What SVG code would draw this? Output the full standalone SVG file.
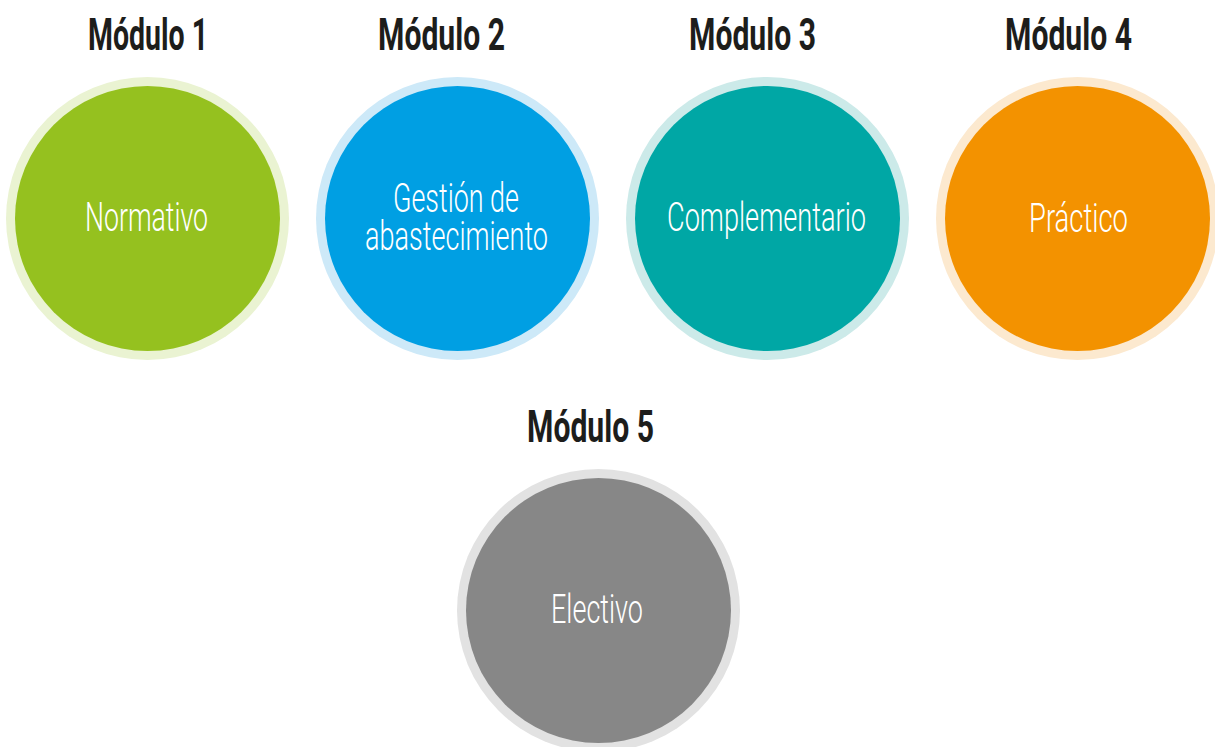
<svg xmlns="http://www.w3.org/2000/svg" width="1215" height="747" viewBox="0 0 1215 747">
<style>
.title{font-family:Roboto,"Liberation Sans",sans-serif;font-weight:700;font-size:44px;fill:#1d1d1b;}
.lbl{font-family:Roboto,"Liberation Sans",sans-serif;font-weight:300;font-size:40px;fill:#ffffff;}
</style>
<rect width="1215" height="747" fill="#ffffff"/>
<g id="modulo1">
<text class="title" x="88" y="49.5" textLength="120" lengthAdjust="spacingAndGlyphs">Módulo 1</text>
<circle cx="147.5" cy="218.5" r="141.5" fill="#eaf3d2"/>
<circle cx="147.5" cy="218.5" r="132.5" fill="#95c11f"/>
<text class="lbl" x="85" y="231" textLength="123" lengthAdjust="spacingAndGlyphs">Normativo</text>
</g>
<g id="modulo2">
<text class="title" x="378" y="49.5" textLength="127" lengthAdjust="spacingAndGlyphs">Módulo 2</text>
<circle cx="457.5" cy="218.5" r="141.5" fill="#cde9f8"/>
<circle cx="457.5" cy="218.5" r="132.5" fill="#009fe3"/>
<text class="lbl" x="393" y="211.5" textLength="126" lengthAdjust="spacingAndGlyphs">Gestión de</text>
<text class="lbl" x="365" y="250" textLength="183" lengthAdjust="spacingAndGlyphs">abastecimiento</text>
</g>
<g id="modulo3">
<text class="title" x="689" y="49.5" textLength="127" lengthAdjust="spacingAndGlyphs">Módulo 3</text>
<circle cx="767.5" cy="218.5" r="141.5" fill="#cceae9"/>
<circle cx="767.5" cy="218.5" r="132.5" fill="#00a7a5"/>
<text class="lbl" x="667" y="231" textLength="199" lengthAdjust="spacingAndGlyphs">Complementario</text>
</g>
<g id="modulo4">
<text class="title" x="1005" y="49.5" textLength="127" lengthAdjust="spacingAndGlyphs">Módulo 4</text>
<circle cx="1077.5" cy="218.5" r="141.5" fill="#fce9cf"/>
<circle cx="1077.5" cy="218.5" r="132.5" fill="#f39200"/>
<text class="lbl" x="1029" y="231.5" textLength="99" lengthAdjust="spacingAndGlyphs">Práctico</text>
</g>
<g id="modulo5">
<text class="title" x="527" y="441.5" textLength="127" lengthAdjust="spacingAndGlyphs">Módulo 5</text>
<circle cx="598.5" cy="610.5" r="141.5" fill="#e2e2e2"/>
<circle cx="598.5" cy="610.5" r="132.5" fill="#878787"/>
<text class="lbl" x="551" y="623" textLength="92" lengthAdjust="spacingAndGlyphs">Electivo</text>
</g>
<g id="connectors"/>
</svg>
